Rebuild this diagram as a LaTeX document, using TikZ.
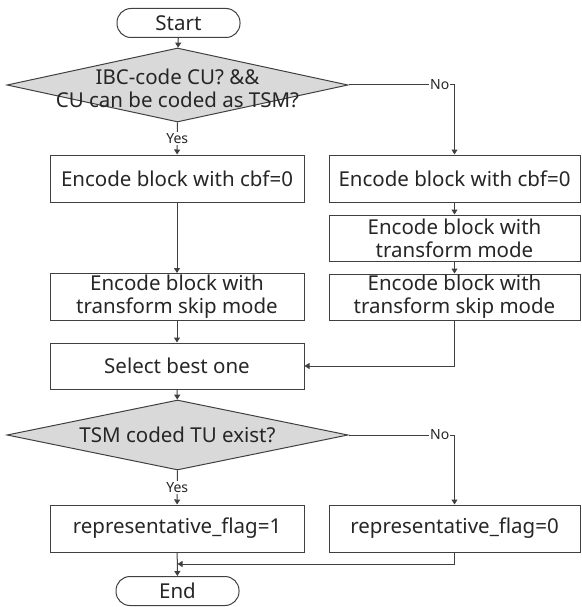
\documentclass[tikz,border=0pt]{standalone}
\usepackage{fontspec}
\setmainfont{Noto Sans}
\usetikzlibrary{arrows.meta}
\usetikzlibrary{shapes}

\tikzset{
  box/.style={draw=black!75, line width=1pt, minimum width=254pt, minimum height=47pt, inner sep=0pt, align=center, font=\fontsize{20.5}{23}\selectfont, text=black!85},
  term/.style={draw=black!75, line width=1pt, rounded corners=14pt, minimum width=123pt, minimum height=29pt, inner sep=0pt, font=\fontsize{20.5}{23}\selectfont, text=black!85},
  cond/.style={diamond, draw=black!75, line width=1pt, fill=black!15, inner sep=0pt},
  condtext/.style={align=center, font=\fontsize{20.5}{23}\selectfont, text=black!85},
  yn/.style={fill=white, inner sep=1pt, font=\fontsize{14}{16}\selectfont, text=black!85}
}

\begin{document}
\begin{tikzpicture}[x=1pt, y=-1pt, ->, >={Triangle[length=5pt,width=6pt]}, line width=1pt, draw=black!75]

    \useasboundingbox (0,0) rectangle (581,607);

    \node[term] (start) at (178.5, 23) {Start};
    \node[cond, minimum width=341pt, minimum height=74pt] (q1) at (177.5, 85) {};
    \node[condtext] (q1t) at (177.5, 88) {IBC-code CU? \&\&\\CU can be coded as TSM?};

    \node[box] (l1) at (177, 178.5) {Encode block with cbf=0};
    \node[box] (l2) at (177, 297) {Encode block with\\transform skip mode};
    \node[box, minimum width=251pt] (r1) at (454.5, 178.5) {Encode block with cbf=0};
    \node[box, minimum width=251pt, minimum height=46pt] (r2) at (454.5, 238) {Encode block with\\transform mode};
    \node[box, minimum width=251pt, minimum height=46pt] (r3) at (454.5, 297) {Encode block with\\transform skip mode};
    \node[box, minimum height=46pt] (sel) at (177, 366) {Select best one};

    \node[cond, minimum width=341pt, minimum height=70pt] (q2) at (177.5, 435) {};
    \node[condtext] (q2t) at (177.5, 435) {TSM coded TU exist?};

    \node[box] (l3) at (177, 528.5) {representative\_flag=1};
    \node[box, minimum width=251pt] (r4) at (454.5, 528.5) {representative\_flag=0};
    \node[term] (end) at (177.5, 591) {End};
    \coordinate (m) at (177.5, 564);

    \draw (start) -- (q1);
    \draw (q1) -- (l1) node[midway, yn] {Yes};
    \draw (q1.east) -| (r1) node[pos=0.43, yn] {No};
    \draw (l1) -- (l2);
    \draw (r1) -- (r2);
    \draw (r2) -- (r3);
    \draw (l2) -- (sel);
    \draw (r3) |- (sel);
    \draw (sel) -- (q2);
    \draw (q2) -- (l3) node[midway, yn] {Yes};
    \draw (q2.east) -| (r4) node[pos=0.43, yn] {No};
    \draw (l3) -- (end);
    \draw (r4) |- (m);

\end{tikzpicture}
\end{document}
